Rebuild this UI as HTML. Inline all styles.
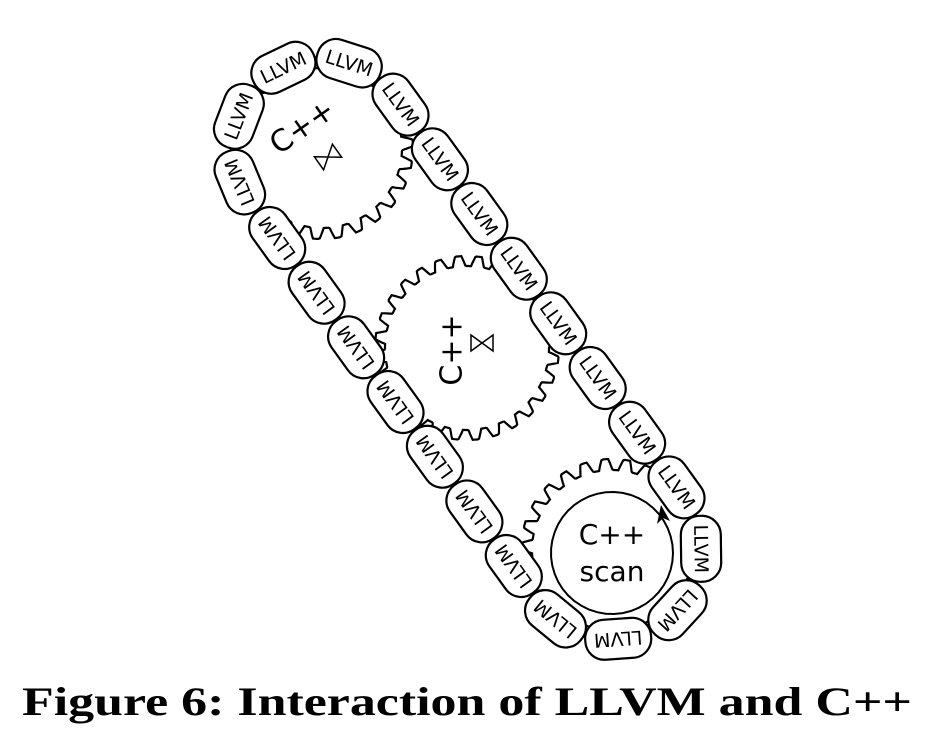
<!DOCTYPE html>
<html><head><meta charset="utf-8"><style>
html,body{margin:0;padding:0;background:#fff;width:938px;height:746px;overflow:hidden}
svg{position:absolute;left:0;top:0}
</style></head><body>
<svg id="s" width="938" height="746" xmlns="http://www.w3.org/2000/svg"></svg>
<script>
var s=document.getElementById('s'),h="";
function gear(cx,cy,r1,r2,n,rot){var p="";var N=n*16;for(var i=0;i<=N;i++){var t=i/N*2*Math.PI+rot;var ph=(i%16)/16;var f;
 if(ph<0.2)f=ph/0.2; else if(ph<0.5)f=1; else if(ph<0.7)f=1-(ph-0.5)/0.2; else f=0;
 var r=r1+(r2-r1)*f;p+=(i?"L":"M")+(cx+r*Math.cos(t)).toFixed(1)+" "+(cy+r*Math.sin(t)).toFixed(1);}
 h+='<path d="'+p+'Z" fill="#fff" stroke="#000" stroke-width="2.2"/>';}
gear(322,148,80,91,26,0.1);
gear(467,348,82,92,28,0.05);
gear(612,550,80,91,26,0.2);
h+='<text x="0" y="0" transform="translate(303,128) rotate(-35)" font-family="DejaVu Sans,sans-serif" font-size="30" text-anchor="middle" dominant-baseline="middle">C++</text>';
h+='<text x="0" y="0" transform="translate(453,350) rotate(-90)" font-family="DejaVu Sans,sans-serif" font-size="30" text-anchor="middle" dominant-baseline="middle">C++</text>';
function bow(x,y,a){h+='<path transform="translate('+x+','+y+') rotate('+a+')" d="M-11,-8 L11,8 L11,-8 L-11,8 Z" fill="none" stroke="#000" stroke-width="1.5"/>';}
bow(328,157,-35);bow(482,343,0);
h+='<text x="612" y="536" font-family="DejaVu Sans,sans-serif" font-size="28" text-anchor="middle" dominant-baseline="middle">C++</text>';
h+='<text x="612" y="573" font-family="DejaVu Sans,sans-serif" font-size="28" text-anchor="middle" dominant-baseline="middle">scan</text>';
var cx=612,cy=553,R=61;var a0=-160*Math.PI/180,a1=-40*Math.PI/180+2*Math.PI;
var p="";for(var i=0;i<=60;i++){var t=a0+(a1-a0)*i/60;p+=(i?"L":"M")+(cx+R*Math.cos(t)).toFixed(1)+" "+(cy+R*Math.sin(t)).toFixed(1);}
h+='<path d="'+p+'" fill="none" stroke="#000" stroke-width="2"/>';
h+='<path d="M661,505 L670,521 L663,518 L657,524 Z" fill="#000"/>';
var A=[322,148],B=[612,550],R2=89;var dx=B[0]-A[0],dy=B[1]-A[1],L=Math.hypot(dx,dy),ux=dx/L,uy=dy/L;
var th=Math.atan2(uy,ux);var P=2*L+2*Math.PI*R2;var n=23;
function pos(d){d=((d%P)+P)%P;var ox=uy,oy=-ux;
 if(d<L)return [A[0]+ux*d+ox*R2,A[1]+uy*d+oy*R2,th];
 d-=L;var arc=Math.PI*R2; if(d<arc){var a=Math.atan2(oy,ox)+d/R2;return [B[0]+R2*Math.cos(a),B[1]+R2*Math.sin(a),a+Math.PI/2];}
 d-=arc; if(d<L)return [B[0]-ux*d-ox*R2,B[1]-uy*d-oy*R2,th+Math.PI];
 d-=L;var a=Math.atan2(-oy,-ox)+d/R2;return [A[0]+R2*Math.cos(a),A[1]+R2*Math.sin(a),a+Math.PI/2];}
var ang0=Math.atan2(ux,-uy); var target=-94*Math.PI/180; var da=target-ang0; while(da<0)da+=2*Math.PI;
var off=2*L+Math.PI*R2+da*R2-P/(2*n);
for(var i=0;i<n;i++){var q=pos(off+i*P/n);var deg=q[2]*180/Math.PI;
 h+='<g transform="translate('+q[0].toFixed(1)+','+q[1].toFixed(1)+') rotate('+deg.toFixed(1)+')"><rect x="-33" y="-20" width="66" height="40" rx="19" fill="#fff" stroke="#000" stroke-width="2.2"/><text x="0" y="1" font-family="DejaVu Sans,sans-serif" font-size="19" text-anchor="middle" dominant-baseline="middle">LLVM</text></g>';}
h+='<text x="22" y="715" textLength="890" lengthAdjust="spacingAndGlyphs" font-family="Liberation Serif,serif" font-weight="bold" font-size="40">Figure 6: Interaction of LLVM and C++</text>';
s.innerHTML=h;
</script>
</body></html>
